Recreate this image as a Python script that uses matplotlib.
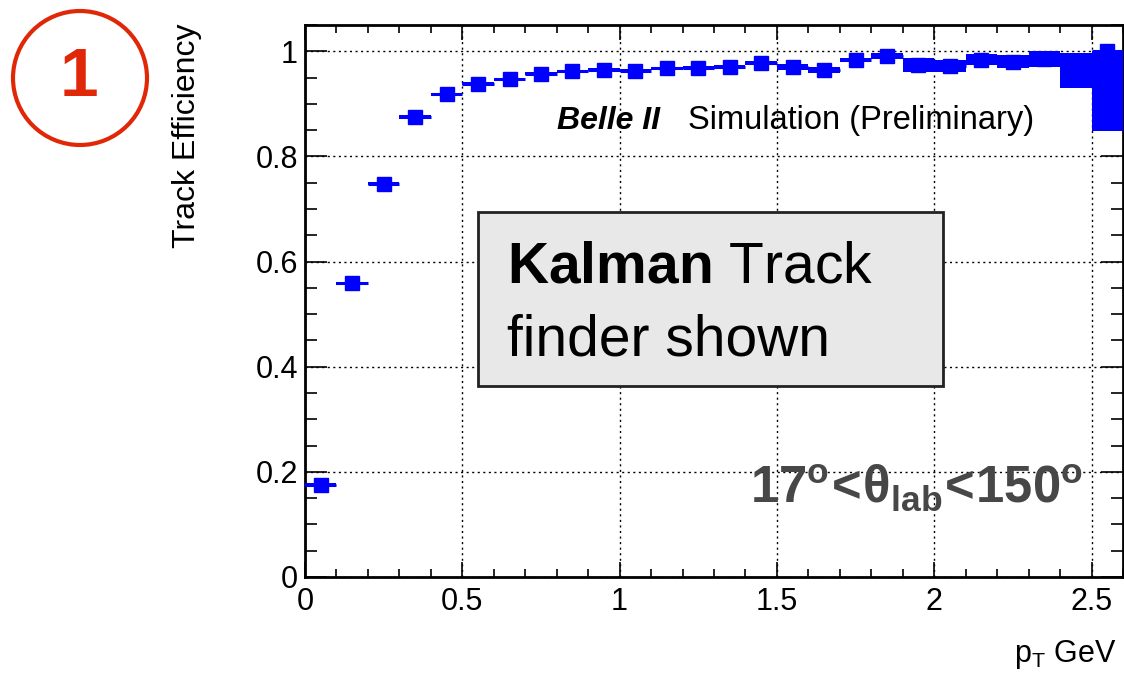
# -*- coding: utf-8 -*-
"Track efficiency vs pT"

import numpy as np
import matplotlib
matplotlib.use("Agg")
import matplotlib.pyplot as plt
from matplotlib.patches import Ellipse
from matplotlib.ticker import MultipleLocator, FuncFormatter

plt.rcParams["font.family"] = ["Liberation Sans", "DejaVu Sans"]
plt.rcParams["mathtext.fontset"] = "custom"
plt.rcParams["mathtext.rm"] = "Liberation Sans"
plt.rcParams["mathtext.it"] = "Liberation Sans:italic"
plt.rcParams["mathtext.bf"] = "Liberation Sans:bold"

# datos
pt_bins = [0.05, 0.15, 0.25, 0.35, 0.45, 0.55, 0.65, 0.75, 0.85, 0.95,
           1.05, 1.15, 1.25, 1.35, 1.45, 1.55, 1.65, 1.75, 1.85, 1.95,
           2.05, 2.15, 2.25, 2.35, 2.45, 2.55]
efficiency = [0.175, 0.559, 0.748, 0.875, 0.918, 0.938, 0.947, 0.957, 0.962, 0.965,
              0.963, 0.968, 0.969, 0.970, 0.978, 0.970, 0.965, 0.984, 0.991, 0.974,
              0.972, 0.984, 0.980, 0.985, 0.980, 1.000]
err_low = [0.003, 0.003, 0.003, 0.003, 0.003, 0.003, 0.003, 0.003, 0.003, 0.003,
           0.003, 0.003, 0.003, 0.004, 0.004, 0.005, 0.006, 0.004, 0.005, 0.013,
           0.012, 0.011, 0.012, 0.015, 0.050, 0.152]
err_high = [0.003, 0.003, 0.003, 0.003, 0.003, 0.003, 0.003, 0.003, 0.003, 0.003,
            0.003, 0.003, 0.003, 0.004, 0.004, 0.005, 0.006, 0.004, 0.005, 0.013,
            0.012, 0.011, 0.012, 0.015, 0.017, 0.000]
bin_width = 0.1

blue = "#0000ff"
red = "#e02808"

fig = plt.figure(figsize=(11.24, 6.77), dpi=100)
ax = fig.add_axes([305/1124, 1 - 577/677, 818/1124, 552/677])

x = np.array(pt_bins)
y = np.array(efficiency)
lo = np.array(err_low)
hi = np.array(err_high)

# cajas de error (estilo E2)
ax.bar(x, lo + hi, bottom=y - lo, width=bin_width, color=blue, lw=0, zorder=3)
ax.errorbar(x, y, xerr=bin_width / 2, fmt="s", color=blue, ms=10,
            elinewidth=2.2, capsize=0, zorder=4)

ax.set_xlim(0, 2.6)
ax.set_ylim(0, 1.05)

ax.xaxis.set_major_locator(MultipleLocator(0.5))
ax.xaxis.set_minor_locator(MultipleLocator(0.1))
ax.yaxis.set_major_locator(MultipleLocator(0.2))
ax.yaxis.set_minor_locator(MultipleLocator(0.05))
fmt = FuncFormatter(lambda v, p: "%g" % round(v, 2))
ax.xaxis.set_major_formatter(fmt)
ax.yaxis.set_major_formatter(fmt)

ax.tick_params(which="both", direction="in", top=True, right=True,
               labelsize=22, width=1.2, color="black")
ax.tick_params(axis="x", which="major", length=11, pad=7)
ax.tick_params(axis="x", which="minor", length=6)
ax.tick_params(axis="y", which="major", length=16, pad=5)
ax.tick_params(axis="y", which="minor", length=8.5)

ax.set_axisbelow(True)
ax.grid(True, which="major", color="black", lw=1.0, linestyle=(0, (1.5, 2.5)))
for s in ax.spines.values():
    s.set_linewidth(2)

# textos
fig.text(557/1124, 1 - 129/677, "Belle II", fontsize=23, fontweight="bold",
         fontstyle="italic", va="baseline")
fig.text(688/1124, 1 - 129/677, "Simulation (Preliminary)", fontsize=23.5,
         va="baseline")
fig.text(750/1124, 1 - 503/677, r"$\mathbf{17^o\!<\!\theta_{lab}\!<\!150^o}$",
         fontsize=36.5, color="#474747", va="baseline")

fig.text(187/1124, 1 - 23/677, "Track Efficiency", rotation=90, fontsize=23,
         ha="center", va="top")
fig.text(1117/1124, 1 - 662/677, r"p$_{\mathrm{T}}$ GeV", fontsize=22,
         ha="right", va="baseline")

# cuadro del Kalman
box = plt.Rectangle((478/1124, 1 - 386/677), (943 - 478)/1124, (386 - 212)/677,
                    transform=fig.transFigure, facecolor="#e8e8e8",
                    edgecolor="#222222", lw=2, zorder=5)
fig.add_artist(box)
fig.text(507/1124, 1 - 283/677, r"$\mathbf{Kalman}$ Track", fontsize=41,
         va="baseline", zorder=6)
fig.text(507/1124, 1 - 355/677, "finder shown", fontsize=41, va="baseline", zorder=6)

# circulo rojo con el 1
fig.add_artist(Ellipse((80/1124, 1 - 78/677), 134/1124, 134/677,
                       transform=fig.transFigure, fill=False, ec=red, lw=3))
fig.text(79/1124, 1 - 78/677, "1", fontsize=50, fontweight="bold", color=red,
         ha="center", va="center")

fig.savefig("out.png", dpi=100)
